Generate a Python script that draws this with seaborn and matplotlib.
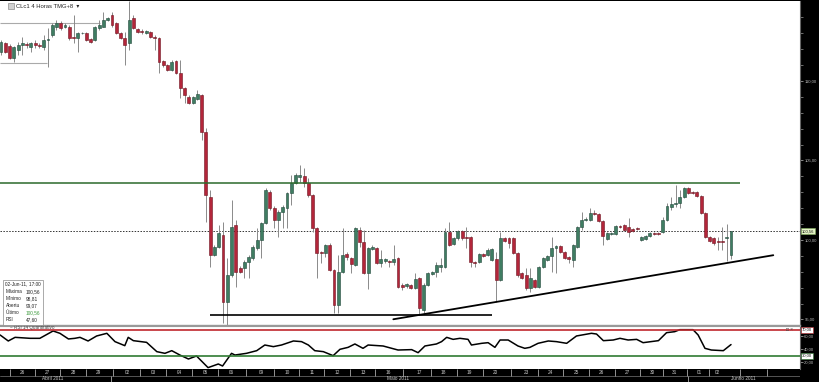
import numpy as np
import pandas as pd
import matplotlib
matplotlib.use("Agg")
import matplotlib.pyplot as plt
import matplotlib.transforms as mtransforms
from matplotlib.patches import Rectangle
import seaborn as sns

# CLc1 4-hour candles
opens = [111.84, 112.37, 112.20, 111.44, 111.95, 112.26, 112.32, 112.15, 112.40, 112.26,
         112.15, 112.57, 112.89, 113.41, 113.62, 113.41, 113.41, 112.78, 112.68, 112.99,
         112.99, 112.62, 112.57, 113.31, 113.41, 113.83, 114.15, 113.62, 112.99, 112.68,
         112.37, 113.94, 113.25, 113.14, 112.99, 113.10, 112.78, 112.68, 111.25, 111.00,
         110.69, 111.25, 110.48, 109.54, 109.01, 108.59, 108.84, 109.11, 106.81, 102.72,
         99.05, 99.57, 100.31, 96.12, 97.79, 100.94, 98.23, 98.21, 98.63, 98.84,
         99.47, 99.99, 101.06, 103.01, 102.01, 101.25, 101.76, 102.01, 102.95, 103.58,
         103.96, 104.02, 103.58, 102.83, 100.75, 99.24, 99.18, 99.68, 98.11, 95.91,
         97.98, 99.11, 98.86, 98.42, 100.62, 99.87, 97.92, 99.43, 99.49, 98.55,
         98.67, 98.67, 98.61, 98.86, 97.16, 97.10, 97.16, 96.97, 97.60, 95.59,
         97.16, 97.86, 97.98, 98.30, 98.30, 100.50, 99.74, 100.12, 100.56, 100.18,
         100.18, 98.61, 98.61, 99.11, 99.05, 98.74, 98.80, 97.48, 100.12, 100.12,
         100.12, 99.18, 97.92, 97.79, 96.97, 97.48, 97.04, 98.30, 98.74, 98.99,
         99.49, 99.62, 99.24, 98.93, 98.74, 99.55, 100.81, 101.25, 101.25, 101.69,
         101.63, 101.19, 100.06, 100.37, 100.37, 100.87, 100.94, 100.81, 100.69, 100.75,
         99.99, 100.06, 100.25, 100.43, 100.43, 100.50, 101.25, 102.07, 102.26, 102.32,
         102.70, 103.26, 103.01, 103.01, 102.76, 101.69, 100.18, 100.12, 99.90, 99.93,
         100.12, 99.07]
closes = [112.47, 111.84, 111.44, 112.13, 112.26, 112.37, 112.26, 112.37, 112.26, 112.17,
          112.57, 112.62, 113.52, 113.62, 113.31, 113.52, 112.68, 112.68, 112.99, 113.03,
          112.57, 112.47, 113.41, 113.52, 113.83, 113.94, 113.52, 112.99, 112.68, 112.26,
          113.83, 113.31, 113.10, 113.06, 113.14, 112.74, 112.68, 111.21, 111.00, 110.69,
          111.21, 110.48, 109.54, 109.11, 108.59, 108.97, 109.16, 106.81, 102.83, 99.05,
          99.57, 100.43, 96.12, 97.79, 100.83, 98.00, 98.00, 98.63, 98.94, 99.57,
          99.99, 101.06, 103.14, 102.01, 101.25, 101.76, 102.07, 102.95, 103.58, 104.08,
          104.08, 103.58, 102.83, 100.75, 99.18, 99.18, 99.68, 98.11, 95.91, 97.98,
          99.05, 98.93, 98.49, 100.75, 99.87, 97.92, 99.49, 99.55, 98.55, 98.80,
          98.80, 98.61, 98.80, 97.04, 97.04, 97.23, 96.97, 97.54, 95.72, 97.16,
          97.92, 97.98, 98.42, 98.42, 100.50, 99.68, 100.12, 100.56, 100.12, 100.12,
          98.61, 98.55, 99.11, 98.99, 99.37, 99.43, 97.48, 100.12, 99.93, 99.80,
          99.18, 97.79, 97.60, 96.97, 97.60, 97.04, 98.30, 98.86, 98.99, 99.49,
          99.62, 99.24, 98.86, 98.80, 99.68, 100.81, 101.25, 101.32, 101.69, 101.63,
          101.19, 100.25, 100.43, 100.43, 100.87, 100.81, 100.62, 100.50, 100.56, 100.69,
          100.18, 100.25, 100.43, 100.37, 100.37, 101.25, 102.13, 102.26, 102.32, 102.70,
          103.26, 102.95, 102.95, 102.76, 101.69, 100.18, 99.93, 99.80, 99.87, 99.87,
          100.18, 100.56]
highs = [112.57, 112.45, 112.32, 112.20, 112.47, 112.78, 112.47, 112.45, 112.57, 112.37,
         112.89, 113.31, 113.62, 113.83, 113.77, 113.64, 113.52, 114.15, 113.10, 113.10,
         113.08, 112.70, 113.45, 113.83, 114.35, 114.02, 114.35, 113.71, 113.08, 113.10,
         115.06, 114.15, 113.33, 113.27, 113.20, 113.14, 112.89, 112.76, 111.32, 111.06,
         111.32, 111.32, 111.32, 109.62, 109.11, 109.05, 109.43, 109.18, 107.04, 103.14,
         99.68, 100.94, 101.15, 98.86, 102.51, 101.25, 98.36, 98.74, 99.05, 99.68,
         100.75, 101.13, 103.26, 103.14, 102.13, 101.88, 102.20, 103.01, 104.08, 104.21,
         104.71, 104.52, 103.89, 102.89, 100.81, 99.30, 99.74, 99.80, 98.17, 99.05,
         100.75, 99.24, 98.93, 100.81, 100.81, 100.62, 99.55, 99.68, 99.55, 99.37,
         98.86, 98.74, 99.68, 98.93, 97.29, 97.29, 97.23, 97.92, 97.67, 97.29,
         97.98, 98.04, 98.61, 98.86, 100.75, 101.13, 100.18, 100.62, 100.62, 100.81,
         100.25, 98.67, 99.18, 99.18, 99.49, 99.49, 99.24, 100.50, 100.18, 100.18,
         100.18, 99.24, 97.98, 98.23, 98.23, 97.54, 98.36, 98.93, 99.05, 100.18,
         99.68, 99.68, 99.30, 98.99, 99.74, 100.87, 101.76, 101.44, 102.01, 101.88,
         101.69, 101.25, 100.50, 100.50, 100.94, 100.94, 101.00, 101.38, 100.75, 100.81,
         100.25, 100.31, 100.50, 100.50, 100.50, 101.44, 102.32, 102.70, 103.45, 103.14,
         103.33, 103.33, 103.08, 103.08, 102.83, 101.76, 100.25, 100.18, 100.18, 100.81,
         101.00, 100.56]
lows = [111.63, 111.76, 111.38, 111.19, 111.63, 111.63, 112.05, 111.84, 112.05, 112.05,
        111.95, 110.89, 112.78, 113.20, 113.20, 113.33, 112.57, 112.37, 111.84, 112.95,
        112.51, 112.39, 112.51, 113.20, 113.39, 113.77, 113.41, 112.95, 112.64, 111.00,
        111.95, 113.27, 113.01, 112.95, 112.95, 112.70, 111.95, 110.50, 110.88, 110.62,
        110.62, 110.44, 108.93, 108.61, 108.55, 108.55, 108.80, 106.28, 101.15, 98.32,
        98.99, 99.49, 94.76, 94.65, 97.69, 97.06, 97.92, 97.60, 97.60, 98.74,
        99.37, 98.86, 101.00, 101.88, 100.75, 100.18, 100.75, 100.75, 102.20, 103.52,
        103.64, 103.33, 102.70, 100.50, 97.60, 98.55, 98.93, 98.04, 95.40, 95.40,
        97.92, 98.74, 97.92, 98.36, 99.55, 97.86, 96.92, 99.37, 98.49, 98.30,
        98.55, 98.30, 98.42, 96.97, 96.85, 96.97, 96.91, 96.91, 95.28, 95.40,
        97.10, 97.79, 97.67, 97.98, 98.23, 99.62, 99.68, 99.99, 99.99, 99.49,
        98.30, 98.30, 98.55, 98.93, 98.99, 98.67, 96.10, 97.42, 99.87, 99.49,
        99.11, 97.67, 97.54, 96.85, 96.72, 96.97, 96.97, 98.23, 98.67, 97.98,
        97.92, 99.18, 98.80, 98.55, 98.30, 99.49, 100.62, 101.19, 101.19, 101.57,
        101.13, 99.68, 99.99, 100.31, 100.31, 100.75, 100.56, 100.18, 100.50, 100.62,
        99.93, 99.99, 100.18, 100.31, 100.31, 100.43, 101.19, 101.88, 102.07, 102.01,
        102.64, 102.89, 102.89, 102.70, 101.63, 100.12, 99.87, 99.68, 99.37, 99.37,
        98.67, 98.81]

# RSI(14) curve, read at candle positions
rsi_idx = [-0.2, 1.7, 3.3, 6.8, 9.1, 12.2, 13.8, 15.8, 17.3, 18.5, 20.4, 22.4, 24.8, 26.7,
           29.0, 29.8, 31.0, 34.1, 36.5, 38.4, 40.0, 41.9, 43.9, 45.8, 48.5, 50.9, 51.9,
           54.0, 54.8, 57.5, 59.9, 61.8, 63.8, 65.7, 68.5, 70.4, 72.0, 73.5, 75.5, 77.8,
           79.4, 81.3, 82.9, 84.8, 86.0, 89.5, 93.0, 96.2, 97.7, 99.3, 102.0, 103.2,
           104.4, 105.9, 107.5, 109.4, 110.2, 112.6, 114.1, 115.7, 116.9, 118.8, 121.1,
           122.7, 123.9, 125.8, 128.2, 130.1, 132.5, 134.8, 138.3, 139.5, 141.1, 143.4,
           145.0, 146.9, 148.9, 150.4, 154.0, 155.9, 157.8, 159.0, 162.1, 163.3, 164.9,
           166.4, 169.2, 171.0]
rsi_val = [62.3, 53.1, 58.7, 57.2, 57.2, 68.5, 64.9, 56.2, 57.2, 58.7, 53.1, 60.8, 64.9, 52.1,
           45.9, 58.7, 53.6, 51.0, 36.7, 34.1, 38.2, 31.5, 25.4, 30.0, 12.1, 17.7, 14.6,
           34.1, 31.5, 34.1, 38.2, 46.9, 44.4, 46.9, 53.1, 52.1, 46.9, 38.2, 36.7, 30.5,
           40.3, 43.3, 48.5, 41.8, 46.9, 45.4, 39.2, 39.8, 35.1, 45.4, 48.5, 52.1,
           58.7, 55.6, 57.2, 55.6, 46.9, 49.5, 50.5, 43.3, 54.6, 54.6, 45.4,
           41.8, 43.3, 49.5, 53.1, 52.1, 49.5, 60.8, 64.9, 63.8, 53.6, 54.6,
           57.2, 54.6, 55.6, 50.5, 53.6, 65.9, 67.4, 70.5, 70.5, 62.3, 41.8,
           39.2, 38.2, 47.6]

day_labels = ['26', '27', '28', '29', '02', '03', '04', '05', '06', '09', '10', '11', '12', '13',
              '16', '17', '18', '19', '20', '23', '24', '25', '26', '27', '30', '31', '01', '02']
day_pos = [4.9, 10.8, 16.9, 22.7, 29.7, 35.6, 41.7, 47.8, 53.9, 61.1, 67.0, 72.8, 78.7, 84.8,
           90.6, 97.9, 103.7, 109.8, 115.9, 123.0, 128.8, 134.7, 140.7, 146.8, 152.5, 157.8,
           163.7, 167.9]
month_labels = ['Abril 2011', 'Maio 2011', 'Junho 2011']
month_pos = [12.2, 93.0, 173.8]
month_sep = [25.8, 160.9]

resistance = 103.58
support = 95.28
trend_x = [91.9, 180.9]
trend_y = [95.01, 99.04]
last_price = 100.56

sns.set_style('white')
plt.rcParams['font.family'] = ['Liberation Sans', 'DejaVu Sans']

W, H = 819, 382
fig = plt.figure(figsize=(W / 100, H / 100), dpi=100, facecolor='black')


def fx(px):
    return px / W


def fy(py):
    return 1 - py / H


ax = fig.add_axes([0, fy(325), fx(800), 324 / H], facecolor='white')
ax2 = fig.add_axes([0, fy(369), fx(800), 43 / H], facecolor='white')
ax3 = fig.add_axes([0, 0, fx(800), 13 / H], facecolor='black')

xlim = (-0.234, 187.16)
df = pd.DataFrame({'o': opens, 'h': highs, 'l': lows, 'c': closes})
df['i'] = np.arange(len(df))
up = df['c'] >= df['o']

# candles
ax.vlines(df['i'], df['l'], df['h'], color='#8a8a8a', lw=0.7, zorder=2)
body_h = (df['c'] - df['o']).abs().clip(lower=0.05)
body_b = df[['o', 'c']].min(axis=1)
ax.bar(df['i'][up], body_h[up], bottom=body_b[up], width=0.68, color='#3f7d62',
       edgecolor='#21483a', lw=0.4, zorder=3)
ax.bar(df['i'][~up], body_h[~up], bottom=body_b[~up], width=0.68, color='#b3263a',
       edgecolor='#6e1420', lw=0.4, zorder=3)

# drawn lines
ax.hlines(resistance, xlim[0], 173.1, color='#2b6a2b', lw=1.1, zorder=4)
ax.axhline(last_price, color='#333333', ls=(0, (1.5, 1.5)), lw=0.7, zorder=1)
ax.hlines(support, 48.9, 115.0, color='black', lw=1.2, zorder=4)
ax.plot(trend_x, trend_y, color='black', lw=1.3, zorder=4)
ax.hlines(113.65, xlim[0], 23.2, color='#aaaaaa', lw=0.8, zorder=1)
ax.hlines(111.13, xlim[0], 10.8, color='#aaaaaa', lw=0.8, zorder=1)

ax.set_xlim(*xlim)
ax.set_ylim(94.65, 115.03)
ax.set_xticks([])
ax.yaxis.tick_right()
ax.set_yticks([95, 100, 105, 110])
ax.set_yticklabels(['95,00', '100,00', '105,00', '110,00'])
ax.set_yticks(np.arange(95, 115, 1), minor=True)
ax.tick_params(axis='y', which='major', colors='#bbbbbb', labelsize=3.0, length=2.5,
               width=0.5, pad=0.8)
ax.tick_params(axis='y', which='minor', colors='#999999', length=1.8, width=0.5)
for s in ['left', 'top']:
    ax.spines[s].set_visible(False)
ax.spines['right'].set_color('#666666')
ax.spines['bottom'].set_color('#999999')
ax.spines['bottom'].set_linewidth(1.0)

trans = mtransforms.blended_transform_factory(ax.transAxes, ax.transData)
ax.text(1.002, last_price, '100,56', transform=trans, fontsize=3.0, va='center', ha='left',
        color='#111111', clip_on=False,
        bbox=dict(boxstyle='square,pad=0.25', fc='#e4f3c6', ec='#86b660', lw=0.4))

# title and info box
fig.patches.append(Rectangle((fx(8), fy(9)), fx(6), 6 / H, transform=fig.transFigure,
                             fc='#d0d0d0', ec='#777777', lw=0.4))
fig.text(fx(16), fy(6), 'CLc1 4 Horas TMG+8  \u25be', fontsize=4.2, va='center',
         color='#222222')
fig.patches.append(Rectangle((fx(3), fy(325)), fx(40), 45 / H, transform=fig.transFigure,
                             fc='white', ec='#888888', lw=0.5, zorder=5))
info_rows = [('Máxima', '100,56'), ('Mínimo', '98,81'), ('Abertu', '99,07'),
             ('Último', '100,56'), ('RSI', '47,60')]
fig.text(fx(5), fy(284), '02-Jun-11, 17:00', fontsize=3.4, va='center', color='#222222',
         zorder=6)
for k, (lab, val) in enumerate(info_rows):
    yy = 291.5 + k * 7
    fig.text(fx(6), fy(yy), lab, fontsize=3.4, va='center', color='#222222', zorder=6)
    fig.text(fx(26), fy(yy), val, fontsize=3.4, va='center', zorder=6,
             color='#3c9a3c' if lab == 'Último' else '#222222')

# RSI panel
sns.lineplot(x=rsi_idx, y=rsi_val, ax=ax2, color='black', lw=1.1, sort=False)
ax2.axhline(70, color='#c0282d', lw=1.2)
ax2.axhline(30, color='#2f7a32', lw=1.2)
ax2.set_xlim(*xlim)
ax2.set_ylim(10, 76.15)
ax2.set_xticks([])
ax2.yaxis.tick_right()
ax2.set_yticks([20, 40, 60])
ax2.set_yticklabels(['20,00', '40,00', '60,00'])
ax2.tick_params(axis='y', colors='#bbbbbb', labelsize=3.0, length=2, width=0.5, pad=0.8)
ax2.set_xlabel('')
ax2.set_ylabel('')
for s in ['left', 'bottom']:
    ax2.spines[s].set_visible(False)
ax2.spines['top'].set_color('#999999')
ax2.spines['right'].set_color('#666666')
trans2 = mtransforms.blended_transform_factory(ax2.transAxes, ax2.transData)
ax2.text(0.012, 73.5, '~ RSI 14 Quantitativo', transform=trans2, fontsize=3.3, va='center',
         color='#444444')
for lvl, ec in [(70, '#c0282d'), (30, '#2f7a32')]:
    ax2.text(1.002, lvl, f'{lvl},00', transform=trans2, fontsize=3.0, va='center', ha='left',
             color='#111111', clip_on=False,
             bbox=dict(boxstyle='square,pad=0.2', fc='white', ec=ec, lw=0.4))
ax2.text(0.983, 70, '\u25a1 \u00d7', transform=trans2, fontsize=3.4, va='center',
         color='#444444')

# date bar
ax3.set_xlim(*xlim)
ax3.set_ylim(0, 13)
ax3.set_xticks([])
ax3.set_yticks([])
for s in ax3.spines.values():
    s.set_visible(False)
ax3.axhline(6.5, color='#777777', lw=0.5)
seps = [2.1] + [(a + b) / 2 for a, b in zip(day_pos[:-1], day_pos[1:])] + [173.1, 179.4]
ax3.vlines(seps, 6.5, 13, color='#aaaaaa', lw=0.6)
ax3.vlines(month_sep, 0, 6.5, color='#aaaaaa', lw=0.6)
for lab, p in zip(day_labels, day_pos):
    ax3.text(p, 9.6, lab, fontsize=3.4, color='#cccccc', ha='center', va='center')
for lab, p in zip(month_labels, month_pos):
    ax3.text(p, 3.2, lab, fontsize=3.4, color='#cccccc', ha='center', va='center')

fig.savefig('out.png', dpi=100, facecolor='black')
